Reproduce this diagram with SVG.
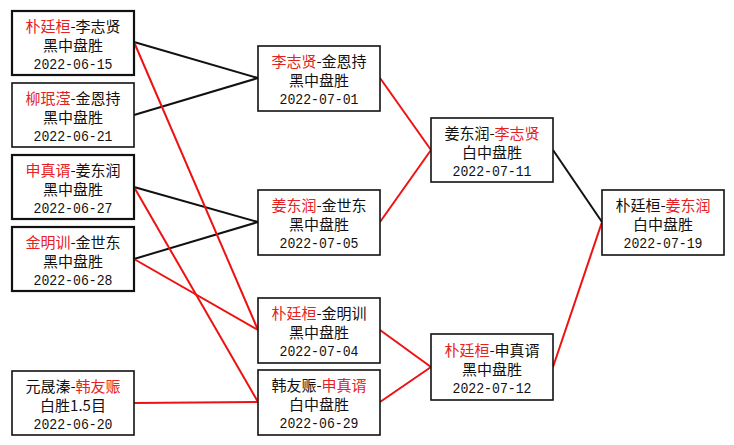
<svg xmlns="http://www.w3.org/2000/svg" width="734" height="445" viewBox="0 0 734 445">
<style>
text{font-family:"Noto Sans CJK SC","Liberation Sans",sans-serif;font-size:15px;fill:#111;text-anchor:middle}
text.d{font-family:"Liberation Mono","Noto Sans CJK SC",monospace;font-size:15px}
.r{fill:#e52222}
.box{fill:#fff;stroke:#111;stroke-width:1.6}
.thick{stroke-width:2.2}
.lb{stroke:#111;stroke-width:2;fill:none}
.lr{stroke:#ee1111;stroke-width:2;fill:none}
</style>
<rect width="734" height="445" fill="#fff"/>
<g id="connectors">
<line class="lb" x1="134" y1="42" x2="258" y2="78"/>
<line class="lb" x1="134" y1="115" x2="258" y2="78"/>
<line class="lb" x1="134" y1="187" x2="258" y2="222"/>
<line class="lb" x1="134" y1="259" x2="258" y2="222"/>
<line class="lr" x1="134" y1="42" x2="258" y2="330"/>
<line class="lr" x1="134" y1="259" x2="258" y2="330"/>
<line class="lr" x1="134" y1="187" x2="258" y2="402"/>
<line class="lr" x1="134" y1="403" x2="258" y2="402"/>
<line class="lr" x1="380" y1="78" x2="431" y2="150"/>
<line class="lr" x1="380" y1="222" x2="431" y2="150"/>
<line class="lr" x1="380" y1="330" x2="431" y2="367"/>
<line class="lr" x1="380" y1="402" x2="431" y2="367"/>
<line class="lb" x1="553" y1="150" x2="602" y2="222"/>
<line class="lr" x1="553" y1="367" x2="602" y2="222"/>
</g>
<g id="n1"><rect class="box thick" x="12" y="11" width="122" height="64"/>
<text x="73" y="32"><tspan class="r">朴廷桓</tspan>-李志贤</text><text x="73" y="51">黑中盘胜</text><text class="d" x="73" y="69" textLength="79" lengthAdjust="spacingAndGlyphs">2022-06-15</text></g>
<g id="n2"><rect class="box" x="12" y="83" width="122" height="64"/>
<text x="73" y="104"><tspan class="r">柳珉滢</tspan>-金恩持</text><text x="73" y="123">黑中盘胜</text><text class="d" x="73" y="141" textLength="79" lengthAdjust="spacingAndGlyphs">2022-06-21</text></g>
<g id="n3"><rect class="box thick" x="12" y="155" width="122" height="64"/>
<text x="73" y="176"><tspan class="r">申真谞</tspan>-姜东润</text><text x="73" y="195">黑中盘胜</text><text class="d" x="73" y="213" textLength="79" lengthAdjust="spacingAndGlyphs">2022-06-27</text></g>
<g id="n4"><rect class="box thick" x="12" y="227" width="122" height="64"/>
<text x="73" y="248"><tspan class="r">金明训</tspan>-金世东</text><text x="73" y="267">黑中盘胜</text><text class="d" x="73" y="285" textLength="79" lengthAdjust="spacingAndGlyphs">2022-06-28</text></g>
<g id="n5"><rect class="box" x="12" y="371" width="122" height="64"/>
<text x="73" y="392">元晟溱-<tspan class="r">韩友赈</tspan></text><text x="73" y="411">白胜1.5目</text><text class="d" x="73" y="429" textLength="79" lengthAdjust="spacingAndGlyphs">2022-06-20</text></g>
<g id="m1"><rect class="box" x="258" y="46" width="122" height="65"/>
<text x="319" y="67"><tspan class="r">李志贤</tspan>-金恩持</text><text x="319" y="86">黑中盘胜</text><text class="d" x="319" y="104" textLength="79" lengthAdjust="spacingAndGlyphs">2022-07-01</text></g>
<g id="m2"><rect class="box" x="258" y="190" width="122" height="65"/>
<text x="319" y="211"><tspan class="r">姜东润</tspan>-金世东</text><text x="319" y="230">黑中盘胜</text><text class="d" x="319" y="248" textLength="79" lengthAdjust="spacingAndGlyphs">2022-07-05</text></g>
<g id="m3"><rect class="box" x="258" y="298" width="122" height="65"/>
<text x="319" y="319"><tspan class="r">朴廷桓</tspan>-金明训</text><text x="319" y="338">黑中盘胜</text><text class="d" x="319" y="356" textLength="79" lengthAdjust="spacingAndGlyphs">2022-07-04</text></g>
<g id="m4"><rect class="box" x="258" y="370" width="122" height="65"/>
<text x="319" y="391">韩友赈-<tspan class="r">申真谞</tspan></text><text x="319" y="410">白中盘胜</text><text class="d" x="319" y="428" textLength="79" lengthAdjust="spacingAndGlyphs">2022-06-29</text></g>
<g id="s1"><rect class="box" x="431" y="118" width="122" height="64"/>
<text x="492" y="139">姜东润-<tspan class="r">李志贤</tspan></text><text x="492" y="158">白中盘胜</text><text class="d" x="492" y="176" textLength="79" lengthAdjust="spacingAndGlyphs">2022-07-11</text></g>
<g id="s2"><rect class="box" x="431" y="334" width="122" height="66"/>
<text x="492" y="356"><tspan class="r">朴廷桓</tspan>-申真谞</text><text x="492" y="375">黑中盘胜</text><text class="d" x="492" y="393" textLength="79" lengthAdjust="spacingAndGlyphs">2022-07-12</text></g>
<g id="f"><rect class="box" x="602" y="190" width="122" height="65"/>
<text x="663" y="211">朴廷桓-<tspan class="r">姜东润</tspan></text><text x="663" y="230">白中盘胜</text><text class="d" x="663" y="248" textLength="79" lengthAdjust="spacingAndGlyphs">2022-07-19</text></g>
</svg>
